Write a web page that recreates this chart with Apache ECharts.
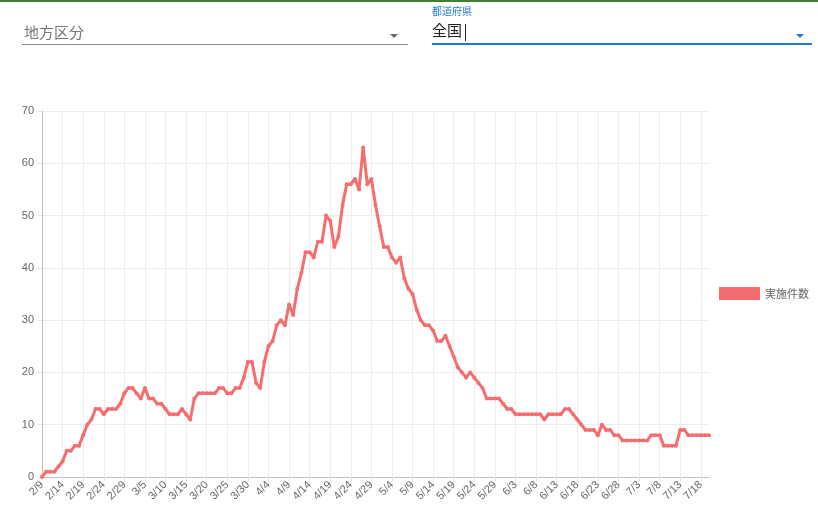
<!DOCTYPE html>
<html>
<head>
<meta charset="utf-8">
<style>
  html, body { margin: 0; padding: 0; background: #fff; }
  #chart { width: 818px; height: 509px; }
</style>
<script src="https://cdn.jsdelivr.net/npm/echarts@6/dist/echarts.min.js"></script>
</head>
<body>
<div id="chart"></div>
<script>
// Daily counts from 2/9 through 7/20
const startMonth = 2, startDay = 9;
const dayCount = 163;
const seriesName = '実施件数';
const counts = [
  0, 1, 1, 1, 2, 3, 5, 5, 6, 6,
  8, 10, 11, 13, 13, 12, 13, 13, 13, 14,
  16, 17, 17, 16, 15, 17, 15, 15, 14, 14,
  13, 12, 12, 12, 13, 12, 11, 15, 16, 16,
  16, 16, 16, 17, 17, 16, 16, 17, 17, 19,
  22, 22, 18, 17, 22, 25, 26, 29, 30, 29,
  33, 31, 36, 39, 43, 43, 42, 45, 45, 50,
  49, 44, 46, 52, 56, 56, 57, 55, 63, 56,
  57, 52, 48, 44, 44, 42, 41, 42, 38, 36,
  35, 32, 30, 29, 29, 28, 26, 26, 27, 25,
  23, 21, 20, 19, 20, 19, 18, 17, 15, 15,
  15, 15, 14, 13, 13, 12, 12, 12, 12, 12,
  12, 12, 11, 12, 12, 12, 12, 13, 13, 12,
  11, 10, 9, 9, 9, 8, 10, 9, 9, 8,
  8, 7, 7, 7, 7, 7, 7, 7, 8, 8,
  8, 6, 6, 6, 6, 9, 9, 8, 8, 8,
  8, 8, 8
];
const yTicks = [0, 10, 20, 30, 40, 50, 60, 70];
const regionPlaceholder = '地方区分';
const prefectureLabel = '都道府県';
const prefectureValue = '全国';

// Build "M/D" labels for 2020 (leap year)
const monthLengths = [31, 29, 31, 30, 31, 30, 31, 31, 30, 31, 30, 31];
const dates = [];
(function () {
  let m = startMonth, d = startDay;
  for (let i = 0; i < dayCount; i++) {
    dates.push(m + '/' + d);
    d++;
    if (d > monthLengths[m - 1]) { d = 1; m++; }
  }
})();

const lineColor = '#f56d6f';
const jpFont = '"Noto Sans CJK JP", "Noto Sans", sans-serif';
const axisFont = '"Liberation Sans", Arial, sans-serif';

const chart = echarts.init(document.getElementById('chart'), null, { renderer: 'canvas' });

chart.setOption({
  animation: false,
  backgroundColor: '#ffffff',
  grid: { left: 42, right: 109, top: 111, bottom: 32, containLabel: false },
  legend: {
    data: [{ name: seriesName, icon: 'rect' }],
    orient: 'vertical',
    left: 714,
    top: 282,
    itemWidth: 41,
    itemHeight: 13,
    itemGap: 6,
    textStyle: { color: '#666', fontSize: 11, fontFamily: jpFont }
  },
  xAxis: {
    type: 'category',
    data: dates,
    boundaryGap: false,
    axisLine: { show: true, lineStyle: { color: '#bdbdbd', width: 1 } },
    axisTick: { show: true, interval: 4, length: 4, lineStyle: { color: '#e6e6e6' } },
    axisLabel: {
      interval: 4,
      rotate: 45,
      color: '#666',
      fontSize: 11,
      fontFamily: axisFont,
      margin: 6
    },
    splitLine: { show: true, interval: 4, lineStyle: { color: '#ececec', width: 1 } }
  },
  yAxis: {
    type: 'value',
    min: yTicks[0],
    max: yTicks[yTicks.length - 1],
    interval: 10,
    axisLine: { show: true, lineStyle: { color: '#bdbdbd', width: 1 } },
    axisTick: { show: true, length: 4, lineStyle: { color: '#e6e6e6' } },
    axisLabel: { color: '#666', fontSize: 11, fontFamily: axisFont, margin: 8 },
    splitLine: { show: true, lineStyle: { color: '#ececec', width: 1 } }
  },
  series: [{
    name: seriesName,
    type: 'line',
    data: counts,
    smooth: false,
    symbol: 'circle',
    symbolSize: 4,
    showSymbol: true,
    showAllSymbol: true,
    lineStyle: { color: lineColor, width: 3 },
    itemStyle: { color: lineColor },
    emphasis: { disabled: true }
  }],
  graphic: [
    // green strip along the top edge
    { type: 'rect', left: 0, top: 0, shape: { width: 818, height: 2 }, style: { fill: '#3f7f2e' } },
    // region select
    { type: 'text', left: 24, top: 25, style: { text: regionPlaceholder, fill: '#777', font: '15px ' + jpFont } },
    { type: 'polygon', shape: { points: [[390, 34], [398, 34], [394, 38]] }, style: { fill: '#666' } },
    { type: 'rect', left: 22, top: 44, shape: { width: 386, height: 1 }, style: { fill: '#8a8a8a' } },
    // prefecture select
    { type: 'text', left: 432, top: 6, style: { text: prefectureLabel, fill: '#1e7ad6', font: '10px ' + jpFont } },
    { type: 'text', left: 432, top: 23, style: { text: prefectureValue, fill: '#222', font: '15px ' + jpFont } },
    { type: 'rect', left: 465, top: 24, shape: { width: 1, height: 17 }, style: { fill: '#222' } },
    { type: 'polygon', shape: { points: [[796, 34], [804, 34], [800, 38]] }, style: { fill: '#1e7ad6' } },
    { type: 'rect', left: 432, top: 43, shape: { width: 380, height: 2 }, style: { fill: '#1e7ad6' } }
  ]
});
</script>
</body>
</html>
